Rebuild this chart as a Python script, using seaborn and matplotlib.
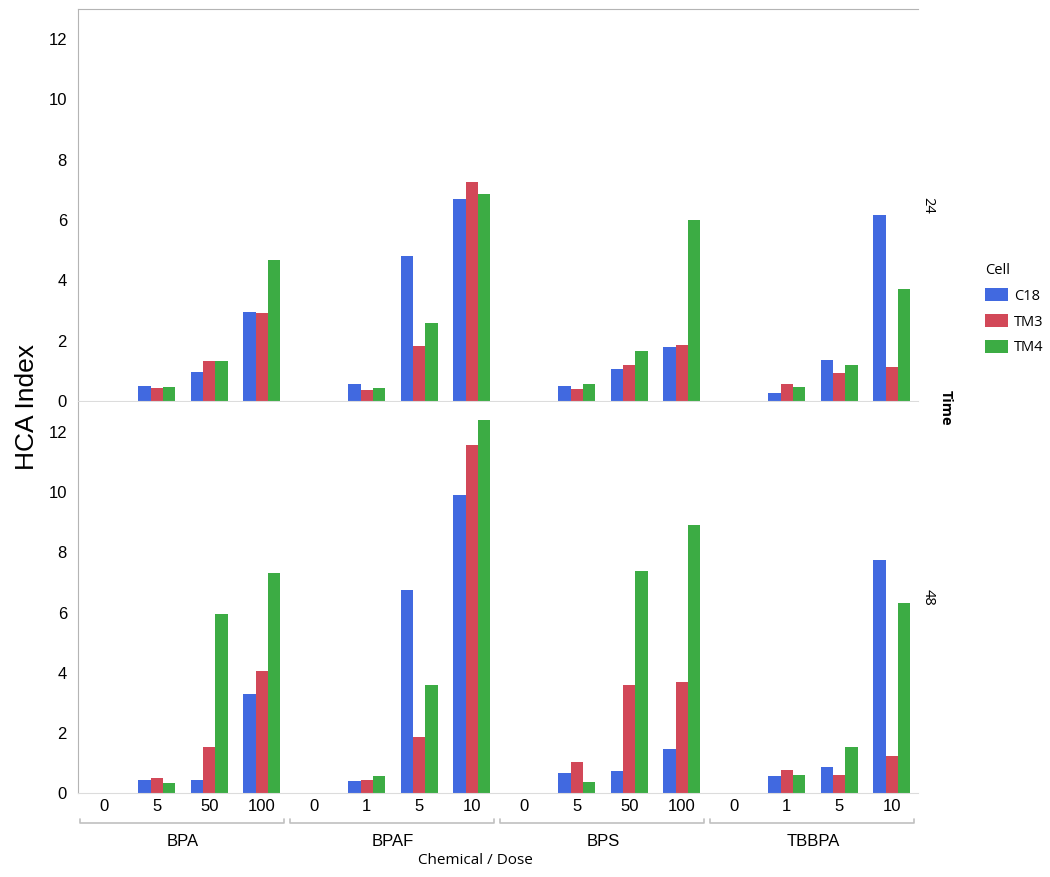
import matplotlib
matplotlib.use("Agg")
import matplotlib.pyplot as plt
import matplotlib.transforms as mtransforms
import seaborn as sns
import pandas as pd

# chart values
chemicals = ["BPA", "BPAF", "BPS", "TBBPA"]
doses = [["0", "5", "50", "100"], ["0", "1", "5", "10"],
         ["0", "5", "50", "100"], ["0", "1", "5", "10"]]
cells = ["C18", "TM3", "TM4"]
times = ["24", "48"]

c18_24 = [0, 0.50, 0.97, 2.96, 0, 0.57, 4.81, 6.71, 0, 0.49, 1.06, 1.78, 0, 0.28, 1.35, 6.18]
tm3_24 = [0, 0.44, 1.34, 2.91, 0, 0.35, 1.84, 7.26, 0, 0.41, 1.18, 1.87, 0, 0.57, 0.94, 1.13]
tm4_24 = [0, 0.46, 1.32, 4.69, 0, 0.42, 2.60, 6.85, 0, 0.57, 1.66, 6.00, 0, 0.47, 1.18, 3.72]
c18_48 = [0, 0.42, 0.43, 3.28, 0, 0.40, 6.75, 9.92, 0, 0.67, 0.73, 1.47, 0, 0.55, 0.85, 7.74]
tm3_48 = [0, 0.51, 1.53, 4.06, 0, 0.44, 1.85, 11.56, 0, 1.04, 3.60, 3.69, 0, 0.78, 0.60, 1.24]
tm4_48 = [0, 0.33, 5.96, 7.32, 0, 0.55, 3.58, 12.39, 0, 0.37, 7.37, 8.90, 0, 0.60, 1.52, 6.32]

colors = {"C18": "#4169e0", "TM3": "#d24858", "TM4": "#3cac44"}

# long table
slots = [c + "|" + d for c, ds in zip(chemicals, doses) for d in ds]
series = {("24", "C18"): c18_24, ("24", "TM3"): tm3_24, ("24", "TM4"): tm4_24,
          ("48", "C18"): c18_48, ("48", "TM3"): tm3_48, ("48", "TM4"): tm4_48}
rows = []
for (t, cell), vals in series.items():
    for s, v in zip(slots, vals):
        rows.append({"Time": t, "Cell": cell, "Slot": s, "HCA": v})
df = pd.DataFrame(rows)

sns.set_style("white")
plt.rcParams['font.family'] = ['Liberation Sans', 'DejaVu Sans']
plt.rcParams['text.color'] = 'black'
plt.rcParams['xtick.color'] = 'black'
plt.rcParams['ytick.color'] = 'black'
segoe = ["Open Sans", "DejaVu Sans"]

W, H = 1050, 877
fig = plt.figure(figsize=(W / 100, H / 100), dpi=100)

def frac_box(x0, y0, x1, y1):
    return [x0 / W, (H - y1) / H, (x1 - x0) / W, (y1 - y0) / H]

ax_top = fig.add_axes(frac_box(78, 9, 918, 401))
ax_bot = fig.add_axes(frac_box(78, 402, 918, 793), sharex=ax_top)

spine_grey = "#b4b4b4"
for ax, t in [(ax_top, "24"), (ax_bot, "48")]:
    sns.barplot(data=df[df["Time"] == t], x="Slot", y="HCA", hue="Cell",
                order=slots, hue_order=cells, palette=colors, saturation=1,
                width=0.7, errorbar=None, linewidth=0, ax=ax)
    ax.set_ylim(0, 13)
    ax.set_yticks([0, 2, 4, 6, 8, 10, 12])
    ax.set_xlabel("")
    ax.set_ylabel("")
    ax.spines["right"].set_visible(False)
    ax.spines["left"].set_color(spine_grey)
    ax.spines["bottom"].set_color("#dcdcdc")
    ax.tick_params(axis="y", length=6, width=1, color=spine_grey, labelcolor="black",
                   pad=2, labelsize=12)
    ax.tick_params(axis="x", length=0, pad=4, labelsize=12, labelcolor="black")
    ax.get_legend().remove()
    ax.text(1.012, 0.5, t, transform=ax.transAxes, rotation=-90, ha="center",
            va="center", fontsize=10.5, family=segoe)

ax_top.spines["top"].set_color(spine_grey)
ax_bot.spines["top"].set_visible(False)
ax_top.tick_params(axis="x", labelbottom=False)
ax_bot.set_xticks(range(len(slots)))
ax_bot.set_xticklabels([s.split("|")[1] for s in slots])
ax_bot.set_xlim(-0.5, len(slots) - 0.5)

# group brackets below the dose labels
trans = mtransforms.blended_transform_factory(ax_bot.transData, ax_bot.transAxes)
hpx = 793 - 402
y_line = -(823 - 793) / hpx
y_tip = -(819 - 793) / hpx
y_lab = -(834 - 793) / hpx
for i, chem in enumerate(chemicals):
    x0 = 4 * i - 0.5 + 0.03
    x1 = 4 * i + 3.5 - 0.07
    ax_bot.plot([x0, x0, x1, x1], [y_tip, y_line, y_line, y_tip], color="#c0c0c0",
                lw=1.2, transform=trans, clip_on=False)
    ax_bot.text(4 * i + 1.5, y_lab, chem, transform=trans, ha="center", va="top",
                fontsize=12)

fig.text(475 / W, 1 - 860 / H, "Chemical / Dose", ha="center", va="center",
         fontsize=11, family=segoe)
fig.text(27 / W, 1 - 407 / H, "HCA Index", rotation=90, ha="center", va="center",
         fontsize=19)
fig.text(946 / W, 1 - 408 / H, "Time", rotation=-90, ha="center", va="center",
         fontsize=10.5, fontweight="bold", family=segoe)

handles, labels = ax_top.get_legend_handles_labels()
leg = fig.legend(handles, labels, title="Cell", loc="upper left",
                 bbox_to_anchor=(972 / W, 1 - 250 / H), frameon=False,
                 handlelength=1.6, handleheight=1.0, labelspacing=0.7,
                 handletextpad=0.4, alignment="left",
                 prop={"family": segoe, "size": 10.5},
                 title_fontproperties={"family": segoe, "size": 10.5})

fig.savefig("out.png", dpi=100)
